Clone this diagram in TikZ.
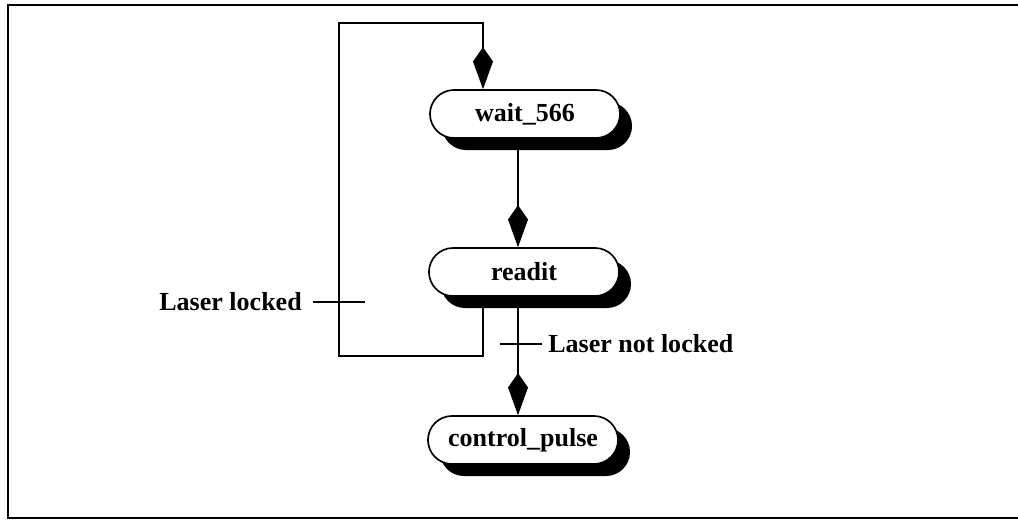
\documentclass[tikz,border=0pt]{standalone}
\usepackage{fontspec}
\setmainfont{Liberation Serif}
\usetikzlibrary{arrows.meta,shadows}

\begin{document}
\begin{tikzpicture}[x=0.025cm, y=-0.025cm,
    state/.style={draw, line width=1.2pt, rounded corners=0.6cm,
                  minimum width=4.75cm, minimum height=1.2cm, fill=white,
                  font=\fontsize{18.5}{22}\selectfont\bfseries,
                  drop shadow={shadow xshift=0.3cm, shadow yshift=-0.3cm,
                               fill=black, opacity=1}},
    cond/.style={inner sep=0pt, font=\fontsize{18.5}{22}\selectfont\bfseries},
    line/.style={line width=1.2pt},
    arrow/.style={line, -{Kite[length=1.05cm, width=0.5cm, inset=0.36cm]}}
  ]
  \useasboundingbox (0,0) rectangle (1018,520);
  % frame
  \draw[line width=1.8pt] (1018,5) -- (8,5) -- (8,518) -- (1018,518);

  \node[state] (wait) at (525,114) {wait\_566};
  \node[state] (readit) at (524,272) {readit};
  \node[state] (pulse) at (523,440) {control\_pulse};

  \coordinate (spine) at (518,0);
  \coordinate (loopr) at (483,23);
  \coordinate (loopl) at (339,356);

  \draw[arrow] (wait.south -| spine) -- (readit.north -| spine);
  \draw[arrow] (readit.south -| spine) -- (pulse.north -| spine);
  \draw[arrow] (readit.south -| loopr) |- (loopl) |- (loopr) -- (wait.north -| loopr);

  % conditions
  \node[cond, anchor=east] (lock) at (302,302) {Laser locked};
  \coordinate (lockend) at (365,302);
  \draw[line, shorten <=0.27cm] (lock) -- (lockend);

  \node[cond, anchor=west] (nlock) at (548,344) {Laser not locked};
  \coordinate (nlockend) at (500,344);
  \draw[line, shorten <=0.15cm] (nlock) -- (nlockend);
\end{tikzpicture}
\end{document}
